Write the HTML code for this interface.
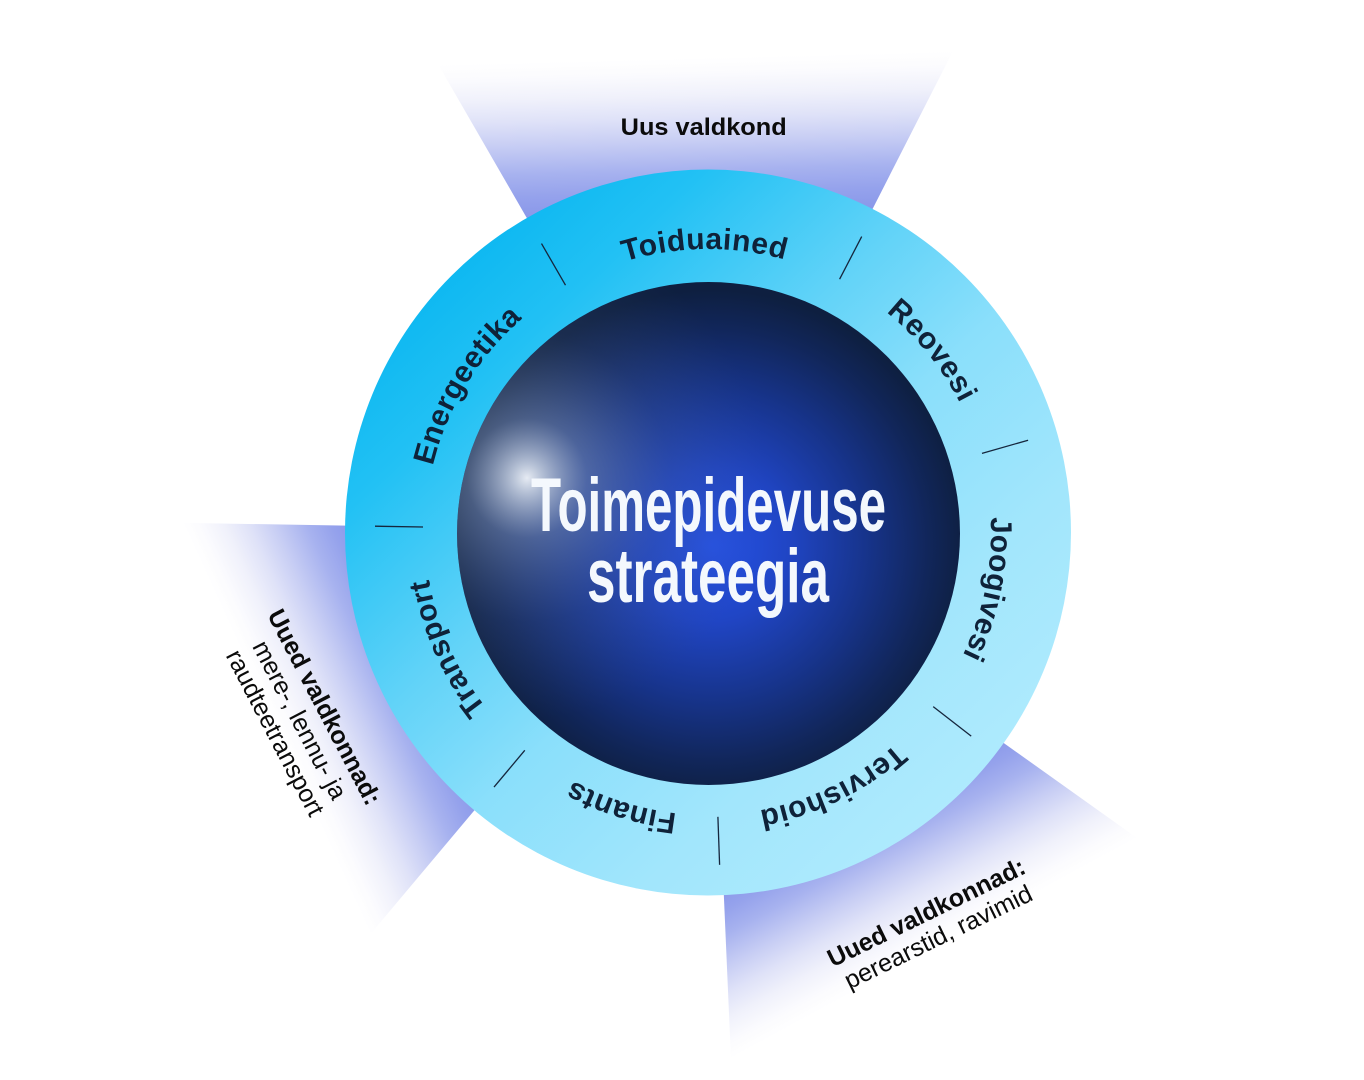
<!DOCTYPE html>
<html>
<head>
<meta charset="utf-8">
<style>
  html, body { margin: 0; padding: 0; background: #ffffff; overflow: hidden; }
  body { width: 1364px; height: 1080px; overflow: hidden; }
  svg { display: block; }
</style>
</head>
<body>
<svg width="1364" height="1080" viewBox="0 0 1364 1080" xmlns="http://www.w3.org/2000/svg">
  <defs>
    <linearGradient id="fanTop" gradientUnits="userSpaceOnUse" x1="708" y1="532" x2="691.8" y2="-87.8">
      <stop offset="0" stop-color="#6f80e4"/>
      <stop offset="0.484" stop-color="#7f8fe7"/>
      <stop offset="0.548" stop-color="#95a2ec"/>
      <stop offset="0.584" stop-color="#a7b2ef"/>
      <stop offset="0.632" stop-color="#c8cef4"/>
      <stop offset="0.669" stop-color="#dfe2f8"/>
      <stop offset="0.705" stop-color="#f0f1fb"/>
      <stop offset="0.74" stop-color="#fbfbfe"/>
      <stop offset="0.765" stop-color="#ffffff"/>
    </linearGradient>
    <linearGradient id="fanLeft" gradientUnits="userSpaceOnUse" x1="708" y1="532" x2="143.8" y2="789.1">
      <stop offset="0" stop-color="#6f80e4"/>
      <stop offset="0.484" stop-color="#7f8fe7"/>
      <stop offset="0.548" stop-color="#95a2ec"/>
      <stop offset="0.584" stop-color="#a7b2ef"/>
      <stop offset="0.632" stop-color="#c8cef4"/>
      <stop offset="0.669" stop-color="#dfe2f8"/>
      <stop offset="0.705" stop-color="#f0f1fb"/>
      <stop offset="0.74" stop-color="#fbfbfe"/>
      <stop offset="0.765" stop-color="#ffffff"/>
    </linearGradient>
    <linearGradient id="fanBR" gradientUnits="userSpaceOnUse" x1="708" y1="532" x2="1003.9" y2="1076.9">
      <stop offset="0" stop-color="#6f80e4"/>
      <stop offset="0.484" stop-color="#7f8fe7"/>
      <stop offset="0.548" stop-color="#95a2ec"/>
      <stop offset="0.584" stop-color="#a7b2ef"/>
      <stop offset="0.632" stop-color="#c8cef4"/>
      <stop offset="0.669" stop-color="#dfe2f8"/>
      <stop offset="0.705" stop-color="#f0f1fb"/>
      <stop offset="0.74" stop-color="#fbfbfe"/>
      <stop offset="0.765" stop-color="#ffffff"/>
    </linearGradient>

    <linearGradient id="ringGrad" gradientUnits="userSpaceOnUse" x1="400" y1="220" x2="1000" y2="850">
      <stop offset="0" stop-color="#00b2ef"/>
      <stop offset="0.2" stop-color="#22c1f4"/>
      <stop offset="0.4" stop-color="#62d3f8"/>
      <stop offset="0.55" stop-color="#8adffb"/>
      <stop offset="0.75" stop-color="#a2e6fc"/>
      <stop offset="1" stop-color="#b3ecfe"/>
    </linearGradient>

    <radialGradient id="sphereBase" gradientUnits="userSpaceOnUse" cx="712" cy="545" r="255">
      <stop offset="0" stop-color="#2652e6"/>
      <stop offset="0.3" stop-color="#2045c4"/>
      <stop offset="0.6" stop-color="#17348c"/>
      <stop offset="0.85" stop-color="#11265a"/>
      <stop offset="1" stop-color="#0e1f40"/>
    </radialGradient>
    <radialGradient id="sphereHi" gradientUnits="userSpaceOnUse" cx="527" cy="478" r="240">
      <stop offset="0" stop-color="#e6ebf3" stop-opacity="1"/>
      <stop offset="0.06" stop-color="#c8d2e2" stop-opacity="0.9"/>
      <stop offset="0.25" stop-color="#7f93b6" stop-opacity="0.52"/>
      <stop offset="0.6" stop-color="#4a6088" stop-opacity="0.22"/>
      <stop offset="1" stop-color="#3a5070" stop-opacity="0"/>
    </radialGradient>

    <path id="lp" d="M 708 815 A 283 283 0 1 1 708 249 A 283 283 0 1 1 708 815"/>
  </defs>

  <rect x="0" y="0" width="1364" height="1080" fill="#ffffff"/>

  <!-- Fans (clipped to frame) -->
  <polygon points="708,532 401,0 979,0" fill="url(#fanTop)"/>
  <polygon points="708,532 248,1080 0,1080 0,519.6" fill="url(#fanLeft)"/>
  <polygon points="708,532 1364,1000 1364,1080 731.9,1080" fill="url(#fanBR)"/>

  <!-- Ring -->
  <circle cx="708" cy="532.5" r="363" fill="url(#ringGrad)"/>

  <!-- Sphere -->
  <circle cx="708.5" cy="533.5" r="251.5" fill="url(#sphereBase)"/>
  <circle cx="708.5" cy="533.5" r="251.5" fill="url(#sphereHi)"/>

  <!-- Ticks -->
  <g stroke="#15263d" stroke-width="1.3" stroke-linecap="butt">
    <line x1="565.5" y1="285.2" x2="541.5" y2="243.6"/>
    <line x1="839.6" y1="279.2" x2="861.7" y2="236.6"/>
    <line x1="982" y1="453.4" x2="1028.1" y2="440.2"/>
    <line x1="933.2" y1="706.6" x2="971.2" y2="736.1"/>
    <line x1="717.9" y1="816.8" x2="719.6" y2="864.8"/>
    <line x1="524.8" y1="750.3" x2="494" y2="787.1"/>
    <line x1="423" y1="527" x2="375" y2="526.2"/>
  </g>

  <!-- Ring labels -->
  <g font-family="'Liberation Sans', 'DejaVu Sans', sans-serif" font-weight="bold" font-size="30" fill="#0f2239" letter-spacing="0.5">
    <text><textPath href="#lp" startOffset="49.82%" text-anchor="middle">Toiduained</textPath></text>
    <text><textPath href="#lp" startOffset="64.17%" text-anchor="middle">Reovesi</textPath></text>
    <text><textPath href="#lp" startOffset="78.19%" text-anchor="middle">Joogivesi</textPath></text>
    <text><textPath href="#lp" startOffset="92.78%" text-anchor="middle">Tervishoid</textPath></text>
    <text><textPath href="#lp" startOffset="4.86%" text-anchor="middle">Finants</textPath></text>
    <text><textPath href="#lp" startOffset="18.33%" text-anchor="middle">Transport</textPath></text>
    <text><textPath href="#lp" startOffset="33.69%" text-anchor="middle">Energeetika</textPath></text>
  </g>

  <!-- Center title -->
  <g font-family="'Liberation Sans', 'DejaVu Sans', sans-serif" font-weight="bold" font-size="76" fill="#f4f8fd">
    <text x="531" y="531" textLength="355" lengthAdjust="spacingAndGlyphs">Toimepidevuse</text>
    <text x="587" y="602" textLength="242" lengthAdjust="spacingAndGlyphs">strateegia</text>
  </g>

  <!-- Outer labels -->
  <g font-family="'Liberation Sans', 'DejaVu Sans', sans-serif" fill="#0b0b0b">
    <text x="620.7" y="135" font-size="24.5" font-weight="bold" textLength="166" lengthAdjust="spacingAndGlyphs">Uus valdkond</text>

    <g transform="translate(317,711) rotate(62.5)" text-anchor="middle" font-size="25">
      <text x="0" y="0" font-weight="bold">Uued valdkonnad:</text>
      <text x="0" y="27.8">mere-, lennu- ja</text>
      <text x="0" y="55.6">raudteetransport</text>
    </g>

    <g transform="translate(930,920) rotate(-26)" text-anchor="middle" font-size="25">
      <text x="0" y="0" font-weight="bold">Uued valdkonnad:</text>
      <text x="0" y="27.2">perearstid, ravimid</text>
    </g>
  </g>
</svg>
</body>
</html>
